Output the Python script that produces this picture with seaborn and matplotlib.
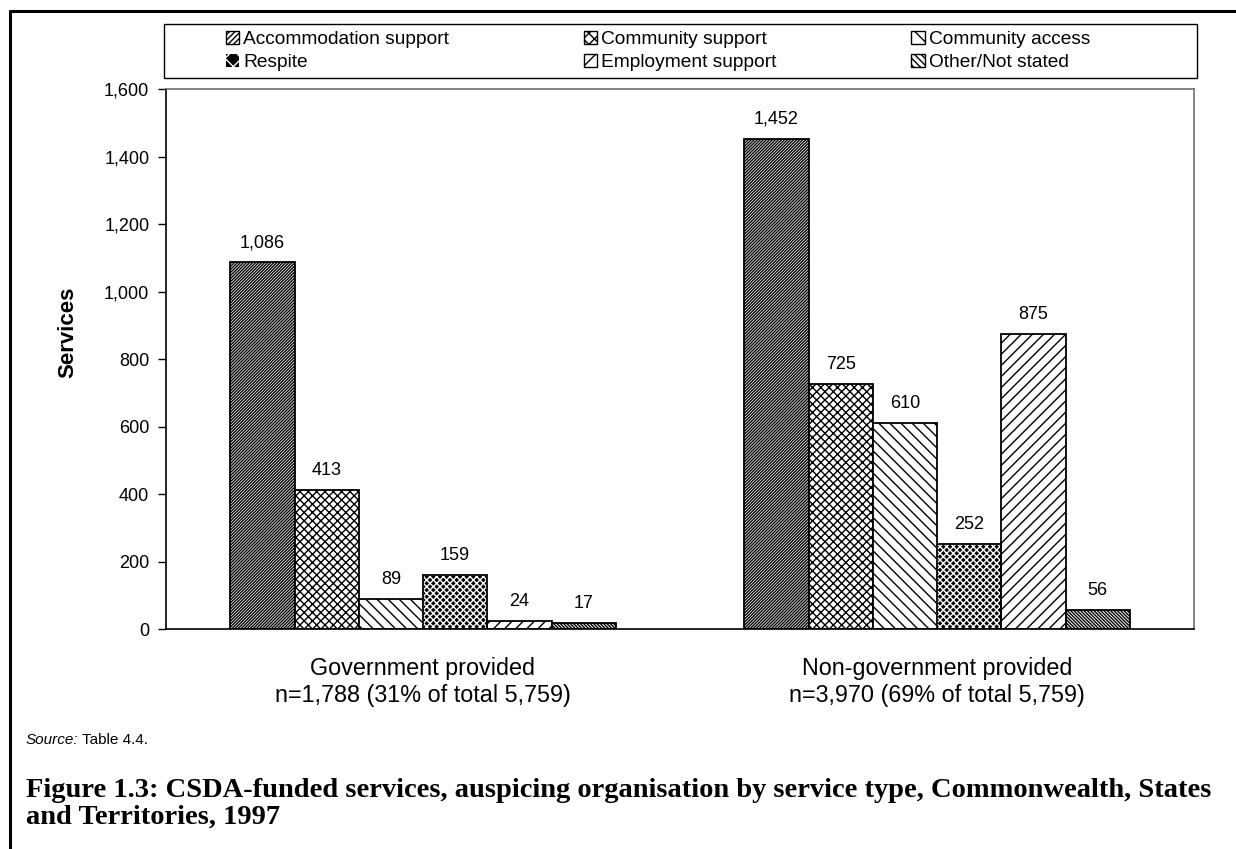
import numpy as np
import pandas as pd
import matplotlib
matplotlib.use("Agg")
import matplotlib.pyplot as plt
import seaborn as sns
from matplotlib.patches import Rectangle
from matplotlib.lines import Line2D
from matplotlib.ticker import FuncFormatter

# ---- data ----
groups = ["Government provided\nn=1,788 (31% of total 5,759)",
          "Non-government provided\nn=3,970 (69% of total 5,759)"]
service_types = ["Accommodation support", "Community support", "Community access",
                 "Respite", "Employment support", "Other/Not stated"]
government = [1086, 413, 89, 159, 24, 17]
non_government = [1452, 725, 610, 252, 875, 56]
y_ticks = [0, 200, 400, 600, 800, 1000, 1200, 1400, 1600]

df = pd.DataFrame({
    "group": [groups[0]] * 6 + [groups[1]] * 6,
    "service": service_types * 2,
    "value": government + non_government,
})

sns.set_theme(style="white")
plt.rcParams["font.family"] = ["Liberation Sans", "DejaVu Sans"]
plt.rcParams["hatch.linewidth"] = 1.0
for k in ["text.color", "axes.labelcolor", "xtick.color", "ytick.color"]:
    plt.rcParams[k] = "black"

W, H = 1236, 849
fig = plt.figure(figsize=(W / 100, H / 100), dpi=100)
fig.patch.set_facecolor("white")
ax = fig.add_axes([166 / W, 1 - 629 / H, (1194 - 166) / W, (629 - 89) / H])

sns.barplot(data=df, x="group", y="value", hue="service", hue_order=service_types,
            order=groups, palette=["white"] * 6, edgecolor="black", linewidth=1.3,
            width=0.75, gap=0, legend=False, ax=ax, saturation=1)

styles = {
    "Accommodation support": dict(hatch="/" * 11, face="white", hc="black", lh="/" * 6),
    "Community support": dict(hatch="x" * 4, face="white", hc="black", lh="xxx"),
    "Community access": dict(hatch="\\" * 3, face="white", hc="black", lh="\\\\"),
    "Respite": dict(hatch="x" * 5, face="black", hc="white", lh="xx"),
    "Employment support": dict(hatch="/" * 3, face="white", hc="black", lh="//"),
    "Other/Not stated": dict(hatch="\\" * 10, face="white", hc="black", lh="\\" * 5),
}

handles = []
for name, cont in zip(service_types, ax.containers):
    st = styles[name]
    for p in cont.patches:
        p.set_facecolor(st["face"])
        p.set_hatch(st["hatch"])
        p.set_edgecolor(st["hc"])
        if st["hc"] != "black":
            ax.add_patch(Rectangle(p.get_xy(), p.get_width(), p.get_height(),
                                   fill=False, edgecolor="black", linewidth=1.3, zorder=p.get_zorder() + 0.1))
    ax.bar_label(cont, labels=[f"{v:,.0f}" for v in cont.datavalues], padding=8, fontsize=13)
    handles.append(Rectangle((0, 0), 1, 1, facecolor=st["face"], hatch=st["lh"],
                             edgecolor=st["hc"], linewidth=(0.0 if st["hc"] != "black" else 1.0),
                             label=name))

ax.set_ylim(0, 1600)
ax.set_yticks(y_ticks)
ax.yaxis.set_major_formatter(FuncFormatter(lambda v, _: f"{v:,.0f}"))
ax.set_xlim(-0.5, 1.5)
ax.tick_params(axis="y", left=True, length=6, width=1, direction="out", pad=6, labelsize=13, colors="black")
ax.tick_params(axis="x", bottom=False, length=0, pad=20, labelsize=16.8)
for lab in ax.get_xticklabels():
    lab.set_linespacing(1.25)
ax.set_xlabel("")
ax.set_ylabel("Services", fontsize=16, fontweight="bold", color="black")
ax.yaxis.set_label_coords(-0.085, 0.55)

for side in ["left", "bottom"]:
    ax.spines[side].set_color("black")
    ax.spines[side].set_linewidth(1.2)
for side in ["top", "right"]:
    ax.spines[side].set_color("#707070")
    ax.spines[side].set_linewidth(1.2)
    ax.spines[side].set_visible(True)

# legend: row-major order with 3 columns
order = [0, 3, 1, 4, 2, 5]
leg = fig.legend([handles[i] for i in order], [service_types[i] for i in order],
                 ncol=3, loc="center left",
                 bbox_to_anchor=(226 / W, 1 - 76 / H, (1090 - 226) / W, (76 - 26) / H),
                 mode="expand", frameon=False, fontsize=13.8, handlelength=0.7, handleheight=0.7,
                 handletextpad=0.2, borderpad=0, borderaxespad=0, labelspacing=0.3)
fig.add_artist(Rectangle((164 / W, 1 - 78 / H), (1197 - 164) / W, (78 - 24) / H,
                         transform=fig.transFigure, fill=False, edgecolor="black", linewidth=1.0))

# figure frame (top and left)
fig.add_artist(Line2D([10 / W, 1.0], [1 - 11 / H, 1 - 11 / H], transform=fig.transFigure, color="black", lw=2.2))
fig.add_artist(Line2D([10 / W, 10 / W], [0.0, 1 - 11 / H], transform=fig.transFigure, color="black", lw=2.2))

fig.text(26 / W, 1 - 740 / H, "Source:", fontsize=11, style="italic", va="center", ha="left")
fig.text(82 / W, 1 - 740 / H, "Table 4.4.", fontsize=11, va="center", ha="left")
fig.text(26 / W, 1 - 804 / H,
         "Figure 1.3: CSDA-funded services, auspicing organisation by service type, Commonwealth, States\nand Territories, 1997",
         fontsize=20.5, fontweight="bold", family=["Liberation Serif", "DejaVu Serif"],
         va="center", ha="left", linespacing=1.08)

fig.savefig("out.png", dpi=100, facecolor="white")
